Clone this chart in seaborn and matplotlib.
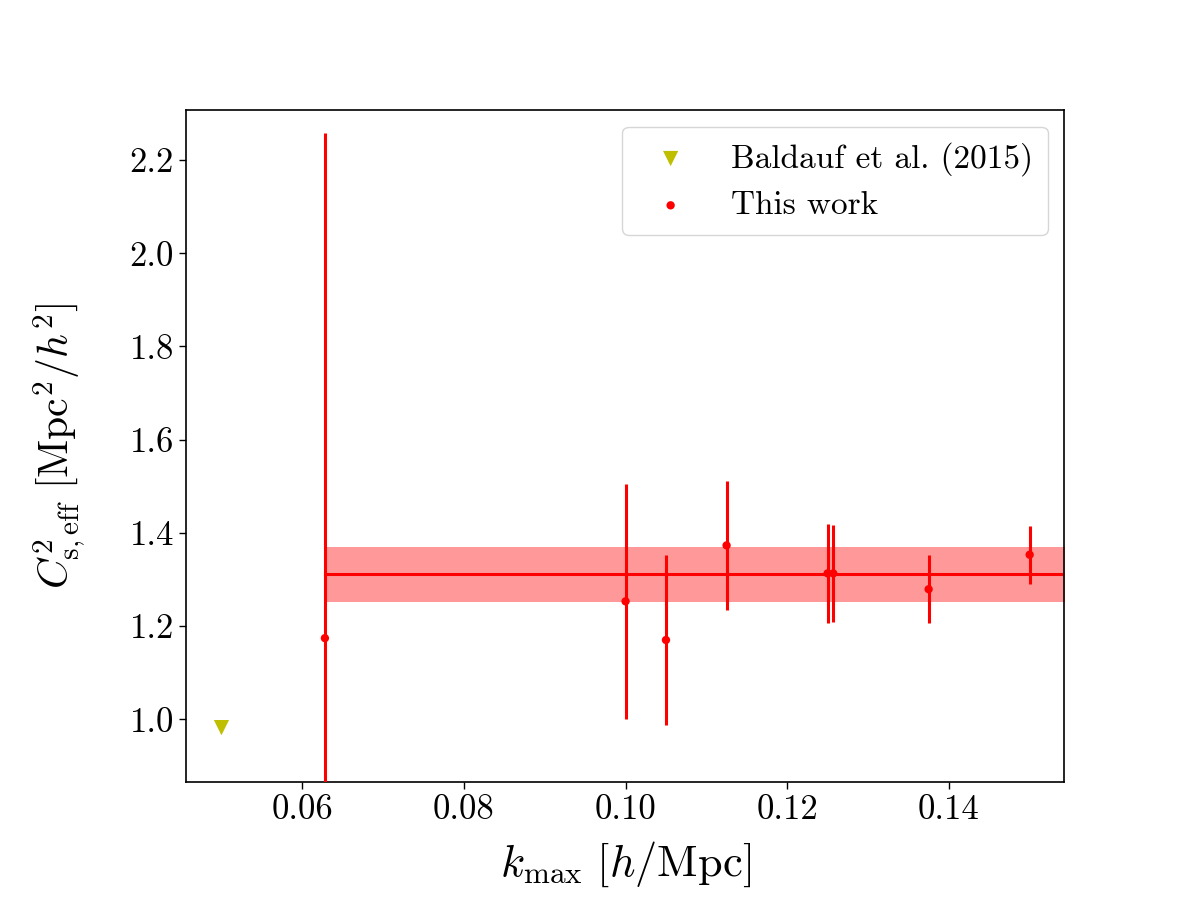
import numpy as np
import pandas as pd
import matplotlib
matplotlib.use('Agg')
import matplotlib.pyplot as plt
import seaborn as sns

k_max = [0.0628, 0.1000, 0.1050, 0.1125, 0.1250, 0.1257, 0.1375, 0.1500]
cs2 = [1.174, 1.253, 1.170, 1.373, 1.313, 1.313, 1.279, 1.353]
cs2_err = [1.084, 0.252, 0.182, 0.138, 0.106, 0.104, 0.073, 0.062]

baldauf_k = [0.05]
baldauf_cs2 = [0.982]

# combined fit and its 1-sigma band
fit_value = 1.311
fit_lo = 1.2505
fit_hi = 1.370
fit_k_range = [0.0628, 0.16]

plt.rcParams['mathtext.fontset'] = 'cm'
plt.rcParams['font.family'] = ['cmr10', 'DejaVu Serif']
plt.rcParams['axes.unicode_minus'] = False
plt.rcParams['axes.formatter.use_mathtext'] = True

df = pd.DataFrame({"k": k_max, "cs2": cs2, "err": cs2_err})
df_b = pd.DataFrame({"k": baldauf_k, "cs2": baldauf_cs2})

fig, ax = plt.subplots(figsize=(11.84, 9.18), dpi=100)
fig.subplots_adjust(left=0.157, right=0.899, top=0.880, bottom=0.148)

# band + fitted constant
ax.fill_between(fit_k_range, [fit_lo, fit_lo], [fit_hi, fit_hi],
                color='r', alpha=0.4, linewidth=0, zorder=1)
ax.plot(fit_k_range, [fit_value, fit_value], color='r', lw=2.2, zorder=2)

# error bars (no markers, legend handled by scatter)
ax.errorbar(df["k"], df["cs2"], yerr=df["err"], fmt='none',
            ecolor='r', elinewidth=2.2, capsize=0, zorder=3)

sns.scatterplot(data=df_b, x="k", y="cs2", marker='v', color='y', s=120,
                edgecolor='none', label='Baldauf et al. (2015)', ax=ax, zorder=4)
sns.scatterplot(data=df, x="k", y="cs2", marker='o', color='r', s=36,
                edgecolor='none', label='This work', ax=ax, zorder=4)

ax.set_xlim(0.0456, 0.1543)
ax.set_ylim(0.865, 2.307)
ax.set_xticks([0.06, 0.08, 0.10, 0.12, 0.14])
ax.set_xticklabels(['0.06', '0.08', '0.10', '0.12', '0.14'])
ax.set_yticks([1.0, 1.2, 1.4, 1.6, 1.8, 2.0, 2.2])
ax.set_yticklabels(['1.0', '1.2', '1.4', '1.6', '1.8', '2.0', '2.2'])
ax.tick_params(labelsize=25, length=5, width=1)

ax.set_xlabel(r'$k_{\mathrm{max}}\ [h/\mathrm{Mpc}]$', fontsize=32, labelpad=10)
ax.set_ylabel(r'$C^2_{\mathrm{s,eff}}\ [\mathrm{Mpc}^2/h^2]$', fontsize=30, labelpad=30)

ax.legend(loc='upper right', fontsize=24, handletextpad=0.8, borderpad=0.45,
          labelspacing=0.45, markerscale=1.0)

for s in ax.spines.values():
    s.set_linewidth(1.2)

fig.savefig('out.png', dpi=100)
